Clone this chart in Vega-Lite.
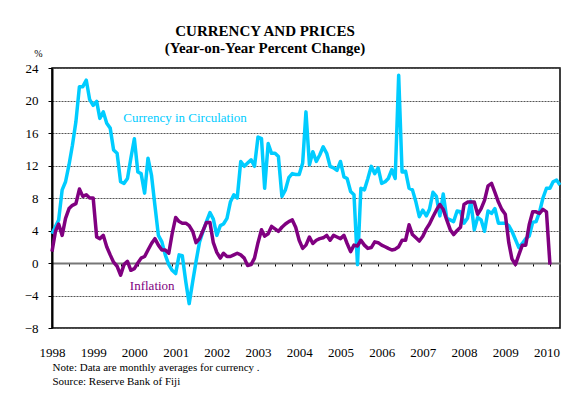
{
"$schema": "https://vega.github.io/schema/vega-lite/v6.json",
"width": 508, "height": 260,
"autosize": {"type": "none"},
"padding": {"left": 52, "top": 68, "right": 25, "bottom": 73},
"background": "white",
"config": {"font": "Liberation Serif", "view": {"stroke": "#000", "strokeWidth": 1.5}},
"title": {"text": "CURRENCY AND PRICES", "subtitle": "(Year-on-Year Percent Change)", "font": "Liberation Serif", "subtitleFont": "Liberation Serif", "fontSize": 15, "subtitleFontSize": 15, "fontWeight": "bold", "subtitleFontWeight": "bold", "color": "#000", "subtitleColor": "#000", "anchor": "middle", "dx": -41, "offset": -8, "subtitlePadding": 2},
"datasets": {
"series": [
{"date":"1998-01-01","currency":3.6,"inflation":1.4},
{"date":"1998-02-01","currency":4.5,"inflation":3.9},
{"date":"1998-03-01","currency":5.3,"inflation":4.8},
{"date":"1998-04-01","currency":9.0,"inflation":3.4},
{"date":"1998-05-01","currency":10.0,"inflation":5.5},
{"date":"1998-06-01","currency":12.1,"inflation":6.7},
{"date":"1998-07-01","currency":14.5,"inflation":7.1},
{"date":"1998-08-01","currency":17.4,"inflation":7.3},
{"date":"1998-09-01","currency":21.7,"inflation":9.1},
{"date":"1998-10-01","currency":21.7,"inflation":8.2},
{"date":"1998-11-01","currency":22.5,"inflation":8.4},
{"date":"1998-12-01","currency":20.1,"inflation":8.0},
{"date":"1999-01-01","currency":19.4,"inflation":8.0},
{"date":"1999-02-01","currency":19.9,"inflation":3.2},
{"date":"1999-03-01","currency":17.8,"inflation":3.0},
{"date":"1999-04-01","currency":18.6,"inflation":3.4},
{"date":"1999-05-01","currency":17.2,"inflation":2.0},
{"date":"1999-06-01","currency":16.6,"inflation":1.0},
{"date":"1999-07-01","currency":13.9,"inflation":0.1},
{"date":"1999-08-01","currency":13.5,"inflation":-0.4},
{"date":"1999-09-01","currency":10.0,"inflation":-1.5},
{"date":"1999-10-01","currency":9.8,"inflation":-0.2},
{"date":"1999-11-01","currency":10.4,"inflation":0.2},
{"date":"1999-12-01","currency":12.9,"inflation":-0.9},
{"date":"2000-01-01","currency":15.3,"inflation":-0.7},
{"date":"2000-02-01","currency":11.2,"inflation":0.0},
{"date":"2000-03-01","currency":11.0,"inflation":0.6},
{"date":"2000-04-01","currency":8.6,"inflation":0.8},
{"date":"2000-05-01","currency":12.9,"inflation":1.6},
{"date":"2000-06-01","currency":10.8,"inflation":2.4},
{"date":"2000-07-01","currency":7.1,"inflation":3.0},
{"date":"2000-08-01","currency":3.4,"inflation":2.2},
{"date":"2000-09-01","currency":2.6,"inflation":1.6},
{"date":"2000-10-01","currency":1.0,"inflation":1.6},
{"date":"2000-11-01","currency":-0.2,"inflation":1.2},
{"date":"2000-12-01","currency":-0.9,"inflation":3.6},
{"date":"2001-01-01","currency":-1.3,"inflation":5.6},
{"date":"2001-02-01","currency":1.0,"inflation":5.1},
{"date":"2001-03-01","currency":0.9,"inflation":4.9},
{"date":"2001-04-01","currency":-2.3,"inflation":4.9},
{"date":"2001-05-01","currency":-5.0,"inflation":4.6},
{"date":"2001-06-01","currency":-2.3,"inflation":3.9},
{"date":"2001-07-01","currency":0.2,"inflation":2.5},
{"date":"2001-08-01","currency":2.6,"inflation":3.0},
{"date":"2001-09-01","currency":3.9,"inflation":4.0},
{"date":"2001-10-01","currency":5.1,"inflation":5.0},
{"date":"2001-11-01","currency":6.2,"inflation":5.0},
{"date":"2001-12-01","currency":5.4,"inflation":2.5},
{"date":"2002-01-01","currency":3.4,"inflation":1.3},
{"date":"2002-02-01","currency":4.6,"inflation":0.6},
{"date":"2002-03-01","currency":4.8,"inflation":1.2},
{"date":"2002-04-01","currency":5.5,"inflation":0.8},
{"date":"2002-05-01","currency":7.5,"inflation":0.8},
{"date":"2002-06-01","currency":8.4,"inflation":1.0},
{"date":"2002-07-01","currency":8.0,"inflation":1.2},
{"date":"2002-08-01","currency":12.5,"inflation":1.0},
{"date":"2002-09-01","currency":11.9,"inflation":0.6},
{"date":"2002-10-01","currency":12.3,"inflation":-0.3},
{"date":"2002-11-01","currency":12.7,"inflation":-0.2},
{"date":"2002-12-01","currency":11.9,"inflation":0.6},
{"date":"2003-01-01","currency":15.5,"inflation":2.5},
{"date":"2003-02-01","currency":15.3,"inflation":4.1},
{"date":"2003-03-01","currency":9.2,"inflation":3.3},
{"date":"2003-04-01","currency":14.7,"inflation":3.6},
{"date":"2003-05-01","currency":13.5,"inflation":4.5},
{"date":"2003-06-01","currency":13.5,"inflation":4.2},
{"date":"2003-07-01","currency":13.1,"inflation":3.9},
{"date":"2003-08-01","currency":8.2,"inflation":4.4},
{"date":"2003-09-01","currency":9.0,"inflation":4.8},
{"date":"2003-10-01","currency":10.5,"inflation":5.1},
{"date":"2003-11-01","currency":11.0,"inflation":5.3},
{"date":"2003-12-01","currency":10.9,"inflation":4.4},
{"date":"2004-01-01","currency":10.9,"inflation":2.8},
{"date":"2004-02-01","currency":12.3,"inflation":1.8},
{"date":"2004-03-01","currency":18.6,"inflation":2.2},
{"date":"2004-04-01","currency":12.1,"inflation":3.2},
{"date":"2004-05-01","currency":13.7,"inflation":2.4},
{"date":"2004-06-01","currency":12.5,"inflation":2.8},
{"date":"2004-07-01","currency":13.3,"inflation":3.0},
{"date":"2004-08-01","currency":14.3,"inflation":3.1},
{"date":"2004-09-01","currency":13.5,"inflation":3.4},
{"date":"2004-10-01","currency":11.9,"inflation":2.8},
{"date":"2004-11-01","currency":11.7,"inflation":3.4},
{"date":"2004-12-01","currency":11.4,"inflation":3.2},
{"date":"2005-01-01","currency":12.5,"inflation":3.0},
{"date":"2005-02-01","currency":10.6,"inflation":3.4},
{"date":"2005-03-01","currency":10.4,"inflation":2.4},
{"date":"2005-04-01","currency":8.8,"inflation":1.4},
{"date":"2005-05-01","currency":8.4,"inflation":2.2},
{"date":"2005-06-01","currency":-0.2,"inflation":2.1},
{"date":"2005-07-01","currency":9.2,"inflation":2.8},
{"date":"2005-08-01","currency":9.0,"inflation":2.2},
{"date":"2005-09-01","currency":10.4,"inflation":1.8},
{"date":"2005-10-01","currency":11.9,"inflation":1.9},
{"date":"2005-11-01","currency":11.0,"inflation":2.6},
{"date":"2005-12-01","currency":11.7,"inflation":2.5},
{"date":"2006-01-01","currency":9.8,"inflation":2.2},
{"date":"2006-02-01","currency":10.0,"inflation":2.0},
{"date":"2006-03-01","currency":10.4,"inflation":1.8},
{"date":"2006-04-01","currency":11.5,"inflation":1.6},
{"date":"2006-05-01","currency":10.4,"inflation":1.7},
{"date":"2006-06-01","currency":23.1,"inflation":2.0},
{"date":"2006-07-01","currency":11.2,"inflation":2.8},
{"date":"2006-08-01","currency":11.3,"inflation":2.8},
{"date":"2006-09-01","currency":9.2,"inflation":4.7},
{"date":"2006-10-01","currency":9.0,"inflation":3.5},
{"date":"2006-11-01","currency":7.5,"inflation":3.1},
{"date":"2006-12-01","currency":5.7,"inflation":2.7},
{"date":"2007-01-01","currency":6.5,"inflation":3.3},
{"date":"2007-02-01","currency":5.8,"inflation":4.2},
{"date":"2007-03-01","currency":6.6,"inflation":4.8},
{"date":"2007-04-01","currency":8.7,"inflation":5.7},
{"date":"2007-05-01","currency":8.2,"inflation":6.5},
{"date":"2007-06-01","currency":5.8,"inflation":7.2},
{"date":"2007-07-01","currency":8.5,"inflation":6.6},
{"date":"2007-08-01","currency":5.5,"inflation":5.3},
{"date":"2007-09-01","currency":5.3,"inflation":4.1},
{"date":"2007-10-01","currency":5.1,"inflation":3.5},
{"date":"2007-11-01","currency":6.4,"inflation":4.0},
{"date":"2007-12-01","currency":6.3,"inflation":4.4},
{"date":"2008-01-01","currency":4.9,"inflation":7.2},
{"date":"2008-02-01","currency":5.5,"inflation":7.5},
{"date":"2008-03-01","currency":7.6,"inflation":7.5},
{"date":"2008-04-01","currency":4.1,"inflation":7.5},
{"date":"2008-05-01","currency":5.6,"inflation":6.0},
{"date":"2008-06-01","currency":5.3,"inflation":6.7},
{"date":"2008-07-01","currency":3.9,"inflation":7.7},
{"date":"2008-08-01","currency":6.4,"inflation":9.5},
{"date":"2008-09-01","currency":6.1,"inflation":9.8},
{"date":"2008-10-01","currency":6.7,"inflation":8.7},
{"date":"2008-11-01","currency":4.9,"inflation":7.5},
{"date":"2008-12-01","currency":4.9,"inflation":6.6},
{"date":"2009-01-01","currency":4.9,"inflation":6.0},
{"date":"2009-02-01","currency":4.6,"inflation":2.5},
{"date":"2009-03-01","currency":3.9,"inflation":0.5},
{"date":"2009-04-01","currency":2.9,"inflation":-0.2},
{"date":"2009-05-01","currency":1.9,"inflation":1.0},
{"date":"2009-06-01","currency":2.4,"inflation":2.2},
{"date":"2009-07-01","currency":3.0,"inflation":2.2},
{"date":"2009-08-01","currency":3.3,"inflation":4.7},
{"date":"2009-09-01","currency":5.0,"inflation":6.3},
{"date":"2009-10-01","currency":5.1,"inflation":6.3},
{"date":"2009-11-01","currency":6.3,"inflation":6.1},
{"date":"2009-12-01","currency":8.0,"inflation":6.6},
{"date":"2010-01-01","currency":9.2,"inflation":6.3},
{"date":"2010-02-01","currency":9.2,"inflation":-0.2},
{"date":"2010-03-01","currency":10.0,"inflation":null},
{"date":"2010-04-01","currency":10.2,"inflation":null},
{"date":"2010-05-01","currency":9.6,"inflation":null}
],
"labels": [
{"label":"Currency in Circulation","series":"Currency in Circulation","date":"1999-09-25","value":17.35},
{"label":"Inflation","series":"Inflation","date":"1999-11-22","value":-3.3}
]
},
"resolve": {"axis": {"x": "independent", "y": "independent"}},
"layer": [
{
"data": {"name": "series"},
"mark": {"type": "line", "color": "#00CCFF", "strokeWidth": 3.5, "strokeJoin": "round"},
"encoding": {
"x": {"field": "date", "type": "temporal",
 "scale": {"type": "utc", "domain": [{"year":1998,"month":1,"date":1,"utc":true},{"year":2010,"month":5,"date":1,"utc":true}]},
 "axis": {"orient": "bottom",
  "values": [{"year":1998,"month":1,"date":1,"utc":true},{"year":1999,"month":1,"date":1,"utc":true},{"year":2000,"month":1,"date":1,"utc":true},{"year":2001,"month":1,"date":1,"utc":true},{"year":2002,"month":1,"date":1,"utc":true},{"year":2003,"month":1,"date":1,"utc":true},{"year":2004,"month":1,"date":1,"utc":true},{"year":2005,"month":1,"date":1,"utc":true},{"year":2006,"month":1,"date":1,"utc":true},{"year":2007,"month":1,"date":1,"utc":true},{"year":2008,"month":1,"date":1,"utc":true},{"year":2009,"month":1,"date":1,"utc":true},{"year":2010,"month":1,"date":1,"utc":true}],
  "labelExpr": "utcFormat(datum.value, '%Y')",
  "domain": false, "ticks": false, "grid": false,
  "labelPadding": 18, "labelFontSize": 13, "labelFont": "Liberation Serif", "labelColor": "#000", "labelFlush": false, "labelOverlap": false,
  "title": ["Note: Data  are  monthly averages  for currency .", "Source: Reserve Bank of Fiji"],
  "titleFont": "Liberation Serif", "titleFontSize": 11, "titleFontWeight": "normal", "titleColor": "#000",
  "titleX": 0, "titleY": 42, "titleAlign": "left", "titleAnchor": "start", "titleBaseline": "alphabetic", "titleLineHeight": 14}},
"y": {"field": "currency", "type": "quantitative",
 "scale": {"domain": [-8, 24], "nice": false, "zero": false},
 "axis": {"orient": "left", "values": [-8,-4,0,4,8,12,16,20,24], "labelOverlap": false, "title": "%", "titleAngle": 0, "titleX": -14, "titleY": -12, "titleFont": "Liberation Serif", "titleFontSize": 10, "titleFontWeight": "normal", "titleAlign": "center", "titleBaseline": "alphabetic", "titleColor": "#000",
  "labelFont": "Liberation Serif", "labelFontSize": 13, "labelColor": "#000", "labelPadding": 10, "tickSize": 4, "tickColor": "#000", "domainColor": "#000", "domainWidth": 2,
  "grid": true, "gridColor": "#555", "gridDash": [2, 1], "gridWidth": 1}}
}
},
{
"data": {"name": "series"},
"mark": {"type": "line", "color": "#800080", "strokeWidth": 3.5, "strokeJoin": "round"},
"encoding": {
"x": {"field": "date", "type": "temporal",
 "axis": {"orient": "bottom", "offset": -65,
  "values": [{"year":1998,"month":6,"date":1,"utc":true},{"year":1998,"month":11,"date":1,"utc":true},{"year":1999,"month":4,"date":1,"utc":true},{"year":1999,"month":9,"date":1,"utc":true},{"year":2000,"month":2,"date":1,"utc":true},{"year":2000,"month":7,"date":1,"utc":true},{"year":2000,"month":12,"date":1,"utc":true},{"year":2001,"month":5,"date":1,"utc":true},{"year":2001,"month":10,"date":1,"utc":true},{"year":2002,"month":3,"date":1,"utc":true},{"year":2002,"month":8,"date":1,"utc":true},{"year":2003,"month":1,"date":1,"utc":true},{"year":2003,"month":6,"date":1,"utc":true},{"year":2003,"month":11,"date":1,"utc":true},{"year":2004,"month":4,"date":1,"utc":true},{"year":2004,"month":9,"date":1,"utc":true},{"year":2005,"month":2,"date":1,"utc":true},{"year":2005,"month":7,"date":1,"utc":true},{"year":2005,"month":12,"date":1,"utc":true},{"year":2006,"month":5,"date":1,"utc":true},{"year":2006,"month":10,"date":1,"utc":true},{"year":2007,"month":3,"date":1,"utc":true},{"year":2007,"month":8,"date":1,"utc":true},{"year":2008,"month":1,"date":1,"utc":true},{"year":2008,"month":6,"date":1,"utc":true},{"year":2008,"month":11,"date":1,"utc":true},{"year":2009,"month":4,"date":1,"utc":true},{"year":2009,"month":9,"date":1,"utc":true},{"year":2010,"month":2,"date":1,"utc":true}],
  "domain": true, "domainColor": "#777", "domainWidth": 2, "ticks": true, "tickSize": 3, "tickColor": "#000", "tickWidth": 1,
  "labels": false, "grid": false, "title": null}},
"y": {"field": "inflation", "type": "quantitative", "axis": null}
}
},
{
"data": {"name": "labels"},
"mark": {"type": "text", "align": "left", "baseline": "alphabetic", "fontSize": 13, "font": "Liberation Serif"},
"encoding": {
"x": {"field": "date", "type": "temporal", "axis": null},
"y": {"field": "value", "type": "quantitative", "axis": null},
"text": {"field": "label"},
"color": {"field": "series", "type": "nominal", "scale": {"domain": ["Currency in Circulation", "Inflation"], "range": ["#00CCFF", "#800080"]}, "legend": null}
}
}
]
}
